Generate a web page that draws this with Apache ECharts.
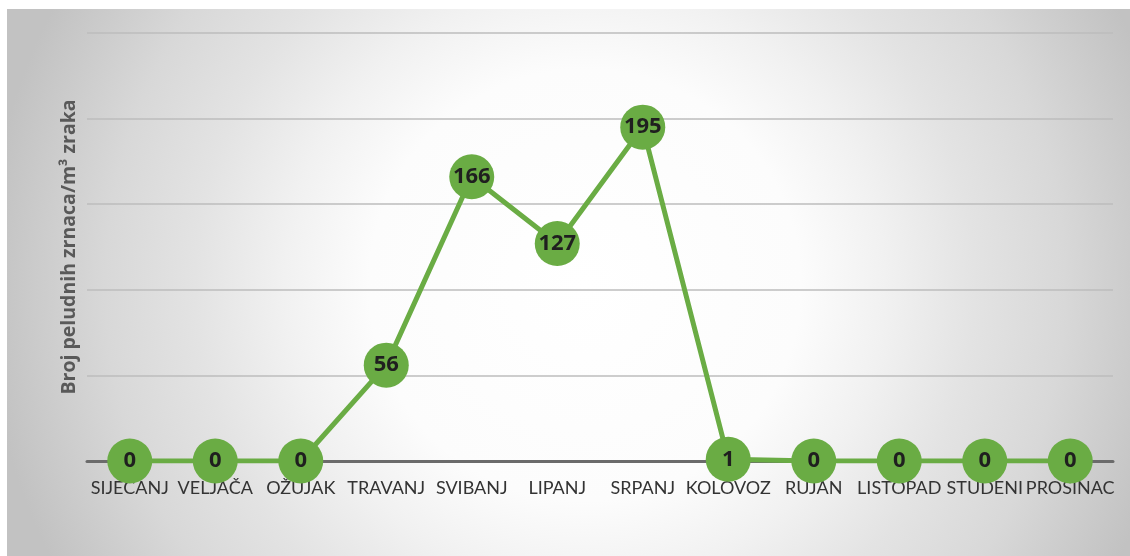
<!DOCTYPE html>
<html>
<head>
<meta charset="utf-8">
<script src="https://cdn.jsdelivr.net/npm/echarts@6/dist/echarts.min.js"></script>
<style>
  html, body { margin: 0; padding: 0; background: #ffffff; }
  #chart { width: 1130px; height: 556px; }
</style>
</head>
<body>
<div id="chart"></div>
<script>
// mjeseci
const months = ['SIJEČANJ', 'VELJAČA', 'OŽUJAK', 'TRAVANJ', 'SVIBANJ', 'LIPANJ',
    'SRPANJ', 'KOLOVOZ', 'RUJAN', 'LISTOPAD', 'STUDENI', 'PROSINAC']
// broj peludnih zrnaca
const pollenCount = [0, 0, 0, 56, 166, 127, 195, 1, 0, 0, 0, 0]
const yTitle = 'Broj peludnih zrnaca/m³ zraka'

const lineColor = '#6aac44'

const chart = echarts.init(document.getElementById('chart'))

// pozadina - radijalni gradijent
const background = {
    type: 'rect',
    z: -100,
    silent: true,
    shape: { x: 7, y: 9, width: 1123, height: 547 },
    style: {
        fill: {
            type: 'radial',
            x: 585,
            y: 285,
            r: 600,
            global: true,
            colorStops: [
                { offset: 0, color: '#ffffff' },
                { offset: 0.36, color: '#fcfcfc' },
                { offset: 0.5, color: '#f1f1f1' },
                { offset: 0.65, color: '#e3e3e3' },
                { offset: 0.8, color: '#d8d8d8' },
                { offset: 1, color: '#c2c2c2' }
            ]
        }
    }
}

const option = {
    animation: false,
    graphic: [background],
    grid: {
        left: 87,
        right: 17,
        top: 33,
        bottom: 95
    },
    xAxis: {
        type: 'category',
        data: months,
        boundaryGap: true,
        axisTick: { show: false },
        axisLine: {
            show: true,
            lineStyle: { color: '#6b6b6b', width: 3 }
        },
        axisLabel: {
            interval: 0,
            margin: 18,
            color: '#333333',
            fontFamily: 'Lato',
            fontSize: 18
        },
        splitLine: { show: false },
        z: 1
    },
    yAxis: {
        type: 'value',
        min: 0,
        max: 250,
        interval: 50,
        name: yTitle,
        nameLocation: 'middle',
        nameRotate: 90,
        nameGap: 8,
        nameTextStyle: {
            color: '#595959',
            fontFamily: 'Open Sans',
            fontWeight: 'bold',
            fontSize: 19.5
        },
        axisLabel: { show: false },
        axisTick: { show: false },
        axisLine: { show: false },
        splitLine: {
            show: true,
            lineStyle: { color: '#bdbdbd', width: 1.5 }
        }
    },
    series: [{
        name: 'pelud',
        type: 'line',
        data: pollenCount,
        symbol: 'circle',
        symbolSize: 45,
        z: 5,
        lineStyle: { color: lineColor, width: 5 },
        itemStyle: { color: lineColor },
        label: {
            show: true,
            position: 'inside',
            color: '#1f1f1f',
            fontFamily: 'Open Sans',
            fontWeight: 'bold',
            fontSize: 22
        }
    }]
}

chart.setOption(option)
</script>
</body>
</html>
